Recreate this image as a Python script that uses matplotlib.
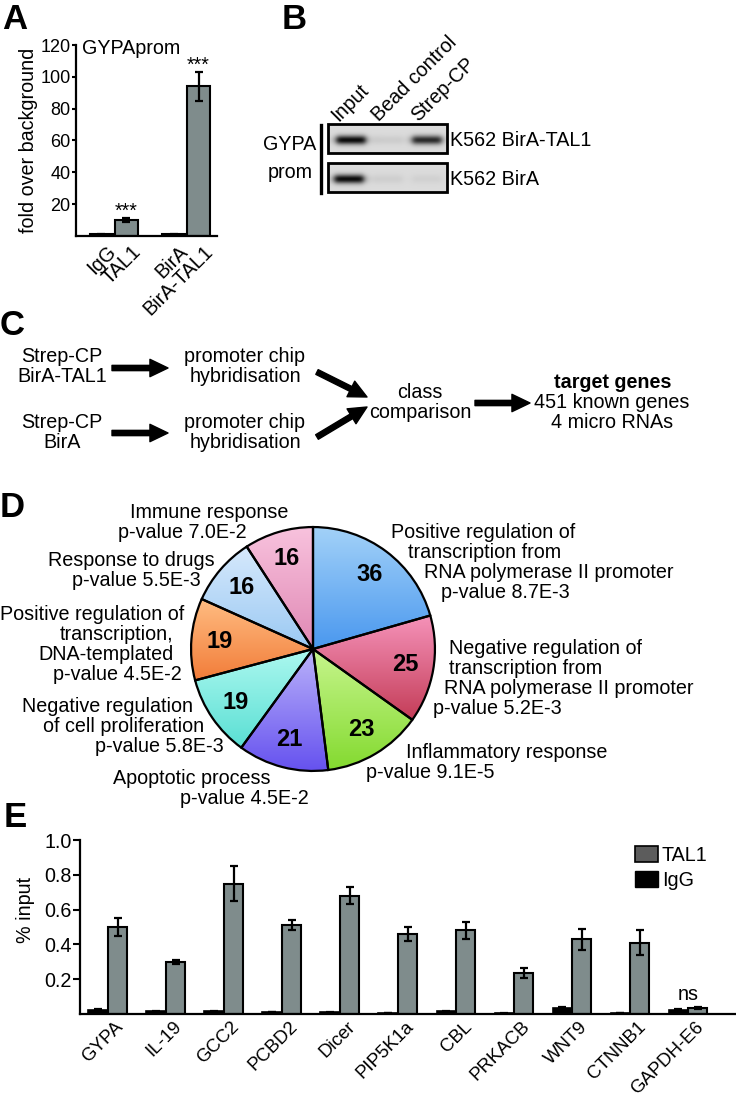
import numpy as np
import matplotlib
matplotlib.use("Agg")
import matplotlib.pyplot as plt
from matplotlib.colors import LinearSegmentedColormap
from matplotlib.patches import FancyArrowPatch, Patch, Rectangle
from matplotlib.transforms import ScaledTranslation

plt.rcParams["font.family"] = ["Liberation Sans", "DejaVu Sans"]
plt.rcParams["axes.linewidth"] = 1.6

# ---- panel A: enrichment at the GYPA promoter
a_labels = ["IgG", "TAL1", "BirA", "BirA-TAL1"]
a_values = [1.0, 10.0, 1.0, 94.0]
a_errors = [0.2, 1.0, 0.2, 9.0]
a_stars = ["", "***", "", "***"]

# ---- panel B: gel (relative band intensity, row x lane)
blot_lanes = ["Input", "Bead control", "Strep-CP"]
blot_rows = ["K562 BirA-TAL1", "K562 BirA"]
blot_signal = [[1.0, 0.07, 0.85],
               [1.0, 0.06, 0.05]]

# ---- panel D: GO terms, clockwise from 12 o'clock
go_terms = [
    ["Positive regulation of", "transcription from", "RNA polymerase II promoter"],
    ["Negative regulation of", "transcription from", "RNA polymerase II promoter"],
    ["Inflammatory response"],
    ["Apoptotic process"],
    ["Negative regulation", "of cell proliferation"],
    ["Positive regulation of", "transcription,", "DNA-templated"],
    ["Response to drugs"],
    ["Immune response"],
]
go_counts = [36, 25, 23, 21, 19, 19, 16, 16]
go_pvalues = ["8.7E-3", "5.2E-3", "9.1E-5", "4.5E-2", "5.8E-3", "4.5E-2", "5.5E-3", "7.0E-2"]

# ---- panel E: ChIP-qPCR
genes = ["GYPA", "IL-19", "GCC2", "PCBD2", "Dicer", "PIP5K1a", "CBL",
         "PRKACB", "WNT9", "CTNNB1", "GAPDH-E6"]
tal1_input = [0.50, 0.30, 0.75, 0.51, 0.68, 0.46, 0.48, 0.235, 0.43, 0.41, 0.035]
tal1_err = [0.05, 0.01, 0.10, 0.03, 0.05, 0.04, 0.05, 0.03, 0.06, 0.07, 0.004]
igg_input = [0.025, 0.015, 0.015, 0.012, 0.010, 0.005, 0.015, 0.003, 0.035, 0.004, 0.025]
igg_err = [0.004, 0.003, 0.003, 0.002, 0.002, 0.001, 0.003, 0.001, 0.004, 0.001, 0.004]

BAR_GREY = "#7f8c8c"
ERR_KW = dict(ecolor="black", elinewidth=1.6, capsize=2.8, capthick=1.6)
FS = 14.2

W, H = 736, 1098
fig = plt.figure(figsize=(W / 100, H / 100), dpi=100)


def box(left, top, right, bottom):
    # pixel box -> figure fraction rect
    return [left / W, 1 - bottom / H, (right - left) / W, (bottom - top) / H]


def shift_labels(ax, dx_px):
    off = ScaledTranslation(dx_px / 100, 0, fig.dpi_scale_trans)
    for lab in ax.get_xticklabels():
        lab.set_transform(lab.get_transform() + off)


def style_axes(ax):
    ax.set_facecolor("none")
    for side in ("top", "right"):
        ax.spines[side].set_visible(False)


# ================= A
ax_a = fig.add_axes(box(76, 45, 217, 236))
style_axes(ax_a)
a_pos = [0, 1, 2.9, 3.9]
ax_a.bar(a_pos, a_values, width=0.92, color=BAR_GREY, edgecolor="black",
         linewidth=1.5, yerr=a_errors, error_kw=ERR_KW)
for x, v, e, s in zip(a_pos, a_values, a_errors, a_stars):
    if s:
        ax_a.text(x, v + e - 1.5, s, ha="center", va="bottom", fontsize=FS)
ax_a.set_xlim(-1.0, 4.64)
ax_a.set_ylim(0, 120)
ax_a.set_yticks(range(20, 121, 20))
ax_a.tick_params(axis="y", labelsize=13, length=3, width=1.5, pad=1)
ax_a.set_xticks(a_pos, a_labels, rotation=45, ha="right", va="top",
               rotation_mode="anchor", fontsize=FS)
ax_a.tick_params(axis="x", length=0, pad=4)
shift_labels(ax_a, 5)
ax_a.set_ylabel("fold over background", fontsize=FS)
ax_a.yaxis.set_label_coords(-0.27, 0.5)
ax_a.text(-0.76, 118, "GYPAprom", ha="left", va="center", fontsize=FS)

# ================= D (pie)
ax_d = fig.add_axes(box(183, 519, 443, 779))
total = sum(go_counts)
wedges, _, nums = ax_d.pie(
    go_counts, startangle=90, counterclock=False, radius=1,
    wedgeprops=dict(edgecolor="black", linewidth=1.6),
    autopct=lambda p: f"{p * total / 100:.0f}", pctdistance=0.77,
    textprops=dict(fontsize=17, fontweight="bold"))
pie_shades = [("#a2d1f8", "#4a98ef"), ("#f592b9", "#c43d58"),
              ("#c6f58c", "#84da30"), ("#bab2fa", "#6652ef"),
              ("#acf8ef", "#5adfd4"), ("#ffbd82", "#f27d3a"),
              ("#d6e9fc", "#9bc9f3"), ("#f8c2dd", "#e088b4")]
ramp = np.linspace(0, 1, 64).reshape(-1, 1)
for w, (top, bot) in zip(wedges, pie_shades):
    ext = w.get_path().get_extents()
    im = ax_d.imshow(ramp, extent=(ext.x0, ext.x1, ext.y0, ext.y1),
                     origin="lower", aspect="auto", zorder=0.5,
                     cmap=LinearSegmentedColormap.from_list("", [bot, top]))
    im.set_clip_path(w)
    w.set_facecolor("none")
    w.set_zorder(1)
ax_d.set_xlim(-1.066, 1.066)
ax_d.set_ylim(-1.066, 1.066)
ax_d.set_aspect("equal")
ax_d.axis("off")

# ================= E
ax_e = fig.add_axes(box(80, 840, 735, 1014))
style_axes(ax_e)
xg = np.arange(len(genes))
ax_e.bar(xg - 0.17, igg_input, 0.33, color="black", edgecolor="black",
         linewidth=1.2, yerr=igg_err, error_kw=ERR_KW)
ax_e.bar(xg + 0.17, tal1_input, 0.33, color=BAR_GREY, edgecolor="black",
         linewidth=1.5, yerr=tal1_err, error_kw=ERR_KW)
ax_e.text(xg[-1], 0.11, "ns", ha="center", va="center", fontsize=FS)
ax_e.set_xlim(-0.48, 10.81)
ax_e.set_ylim(0, 1.0)
ax_e.set_yticks([0.2, 0.4, 0.6, 0.8, 1.0], ["0.2", "0.4", "0.6", "0.8", "1.0"])
ax_e.tick_params(axis="y", labelsize=FS, length=5, width=1.5, pad=1)
ax_e.set_xticks(xg, genes, rotation=45, ha="right", va="top",
               rotation_mode="anchor", fontsize=13.4)
ax_e.tick_params(axis="x", length=0, pad=3)
shift_labels(ax_e, 7)
ax_e.set_ylabel("% input", fontsize=FS)
ax_e.yaxis.set_label_coords(-0.068, 0.6)
ax_e.legend(handles=[Patch(facecolor="#5c5c5c", edgecolor="black", linewidth=1.2),
                     Patch(facecolor="black", edgecolor="black")],
            labels=["TAL1", "IgG"], loc="upper left",
            bbox_to_anchor=(635 / W, 1 - 846 / H), bbox_transform=fig.transFigure,
            frameon=False, fontsize=FS, handlelength=1.15, handleheight=0.9,
            handletextpad=0.2, labelspacing=0.3, borderpad=0, borderaxespad=0)

# ================= overlay in pixel coordinates (B, C, D labels, panel letters)
ov = fig.add_axes([0, 0, 1, 1], zorder=5)
ov.set_xlim(0, W)
ov.set_ylim(H, 0)
ov.axis("off")
ov.patch.set_alpha(0)

for letter, x, y in [("A", 2, 29), ("B", 282, 29), ("C", 0, 335),
                     ("D", 0, 517), ("E", 4, 827)]:
    ov.text(x, y, letter, fontsize=25, fontweight="bold", ha="left", va="baseline")

# B: gel
bx0, bw, bh = 328, 119, 29
row_tops = [124, 163]
lane_x = [[23, 60, 99], [21, 60, 99]]
xs = np.linspace(0, bw, bw * 4)
ys = np.linspace(0, bh, bh * 4)
for top, sig, lx, name in zip(row_tops, blot_signal, lane_x, blot_rows):
    img = np.full((ys.size, xs.size), 0.86)
    for s, cx in zip(sig, lx):
        prof_x = 1 / (1 + ((xs - cx) / 15) ** 8)
        prof_y = np.exp(-0.5 * ((ys - 16) / 3.2) ** 2)
        img -= 0.82 * s * np.outer(prof_y, prof_x)
    ov.imshow(img, extent=(bx0, bx0 + bw, top + bh, top), cmap="gray",
              vmin=0, vmax=1, aspect="auto", interpolation="bilinear")
    ov.add_patch(Rectangle((bx0, top), bw, bh, fill=False, lw=2, ec="black"))
    ov.text(bx0 + bw + 3, top + bh / 2 + 2, name, fontsize=FS, ha="left", va="center")
for lane, x in zip(blot_lanes, [338, 379, 418]):
    ov.text(x, 122, lane, fontsize=FS, rotation=45, rotation_mode="anchor",
            ha="left", va="baseline")
ov.plot([321, 321], [125, 193], color="black", lw=2.4)
ov.text(290, 145, "GYPA", fontsize=FS, ha="center", va="center")
ov.text(290, 172, "prom", fontsize=FS, ha="center", va="center")
ov.set_xlim(0, W)
ov.set_ylim(H, 0)

# C: flow chart
def lines(x, y0, items, **kw):
    for i, s in enumerate(items):
        ov.text(x, y0 + 20 * i, s, fontsize=FS, ha="center", va="center", **kw)


lines(62, 357, ["Strep-CP", "BirA-TAL1"])
lines(62, 423, ["Strep-CP", "BirA"])
lines(245, 357, ["promoter chip", "hybridisation"])
lines(245, 423, ["promoter chip", "hybridisation"])
lines(420, 393, ["class", "comparison"])
ov.text(613, 383, "target genes", fontsize=FS, fontweight="bold", ha="center", va="center")
lines(612, 403, ["451 known genes", "4 micro RNAs"])

arrow_style = "simple,head_width=1.25,head_length=1.3,tail_width=0.38"
for p0, p1 in [((112, 368), (168, 368)), ((112, 433), (168, 433)),
               ((317, 372), (367, 397)), ((317, 437), (367, 407)),
               ((475, 403), (530, 403))]:
    ov.add_patch(FancyArrowPatch(p0, p1, arrowstyle=arrow_style, mutation_scale=10,
                                 color="black", shrinkA=0, shrinkB=0))

# D: outer labels, one entry per line (left edge x, centre y)
go_label_pos = [
    [(391, 533), (408, 553), (424, 573), (441, 593)],
    [(449, 648), (449, 668), (444, 688), (433, 708)],
    [(406, 752), (366, 772)],
    [(113, 778), (180, 798)],
    [(22, 707), (43, 727), (95, 747)],
    [(0, 615), (60, 635), (38, 655), (53, 675)],
    [(48, 560), (72, 580)],
    [(130, 513), (118, 533)],
]
for term, pval, pos in zip(go_terms, go_pvalues, go_label_pos):
    for s, (x, y) in zip(term + [f"p-value {pval}"], pos):
        ov.text(x, y, s, fontsize=FS, ha="left", va="center")

fig.savefig("out.png", dpi=100)
